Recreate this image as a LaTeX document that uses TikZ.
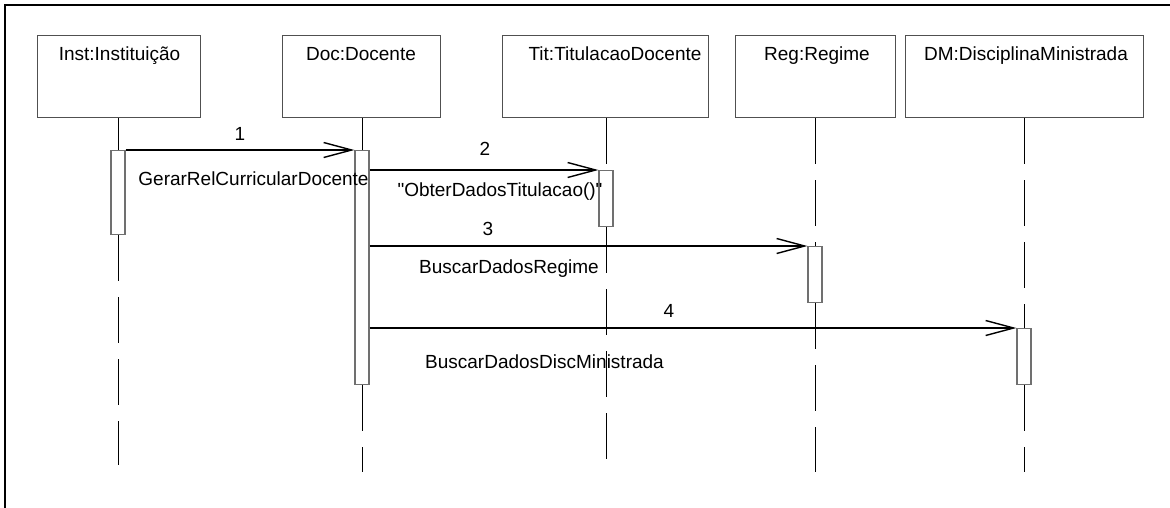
\documentclass[tikz,border=0pt]{standalone}
\usepackage{fontspec}
% plain family: keeps straight quotation marks as typed
\newfontfamily\diagfont{Liberation Sans}
\usetikzlibrary{arrows.meta}
\definecolor{boxline}{HTML}{505050}
\definecolor{actline}{HTML}{707070}
\tikzset{
  obj/.style={draw=boxline, line width=1pt, rectangle, inner sep=0pt, anchor=north west},
  objname/.style={inner sep=0pt, text height=13.6pt, text depth=0pt, anchor=center},
  act/.style={draw=actline, fill=white, line width=1.3pt, rectangle, inner sep=0pt,
              minimum width=14pt, anchor=north},
  life/.style={draw=black, line width=0.9pt, dash pattern=on 46pt off 16pt},
  msg/.style={draw=black, line width=1.4pt,
              -{Straight Barb[length=28pt, width=15pt, line width=1.4pt]}},
  lbl/.style={inner sep=0pt, text height=13.6pt, text depth=0pt, anchor=center},
  frameline/.style={draw=black, line width=2.4pt}
}
\begin{document}
\begin{tikzpicture}[x=1pt, y=-1pt, font=\diagfont\fontsize{19}{23}\selectfont]
\useasboundingbox (0,0) rectangle (1170,507);

% frame (top and left edges)
\coordinate (fTL) at (5,5);
\coordinate (fTR) at (1172,5);
\coordinate (fBL) at (5,509);
\draw[frameline] (fTR) -- (fTL) -- (fBL);

% object boxes
\node[obj, minimum width=163pt, minimum height=82pt] (inst) at (37,35) {};
\node[obj, minimum width=158pt, minimum height=82pt] (doc)  at (282,35) {};
\node[obj, minimum width=206pt, minimum height=82pt] (tit)  at (502,35) {};
\node[obj, minimum width=160pt, minimum height=82pt] (reg)  at (735,35) {};
\node[obj, minimum width=238pt, minimum height=82pt] (dm)   at (905,35) {};

\node[objname] (instT) at (119.5,53.5) {Inst:Instituição};
\node[objname] (docT)  at (361,53.5) {Doc:Docente};
\node[objname] (titT)  at (615,53.5) {Tit:TitulacaoDocente};
\node[objname] (regT)  at (817,53.5) {Reg:Regime};
\node[objname] (dmT)   at (1026,53.5) {DM:DisciplinaMinistrada};

% activation bars
\node[act, minimum height=84pt]  (aInst) at (118,150) {};
\node[act, minimum height=234pt] (aDoc)  at (362,150) {};
\node[act, minimum height=56pt]  (aTit)  at (606,170) {};
\node[act, minimum height=56pt]  (aReg)  at (815,246) {};
\node[act, minimum height=56pt]  (aDM)   at (1024,328) {};

% lifeline ends
\coordinate (eInst) at (118,465);
\coordinate (eDoc)  at (362,472);
\coordinate (eTit)  at (606,473);
\coordinate (eReg)  at (815,472);
\coordinate (eDM)   at (1024,472);

% lifelines
\draw[life] (inst.south -| aInst.north) -- (aInst.north);
\draw[life] (aInst.south) -- (eInst);
\draw[life] (doc.south -| aDoc.north) -- (aDoc.north);
\draw[life] (aDoc.south) -- (eDoc);
\draw[life] (tit.south -| aTit.north) -- (aTit.north);
\draw[life] (aTit.south) -- (eTit);
\draw[life] (reg.south -| aReg.north) -- (aReg.north);
\draw[life] (aReg.south) -- (eReg);
\draw[life] (dm.south -| aDM.north) -- (aDM.north);
\draw[life] (aDM.south) -- (eDM);

% messages
\draw[msg] (aInst.north east) -- (aDoc.north west);
\draw[msg] (aDoc.east |- aTit.north) -- (aTit.north west);
\draw[msg] (aDoc.east |- aReg.north) -- (aReg.north west);
\draw[msg] (aDoc.east |- aDM.north) -- (aDM.north west);

% message labels
\node[lbl] (n1) at (240,134) {1};
\node[lbl] (m1) at (253.5,179) {GerarRelCurricularDocente};
\node[lbl] (n2) at (485,149) {2};
\node[lbl] (m2) at (500,190) {"ObterDadosTitulacao()"};
\node[lbl] (n3) at (488,229) {3};
\node[lbl] (m3) at (509,267) {BuscarDadosRegime};
\node[lbl] (n4) at (669,311) {4};
\node[lbl] (m4) at (544.5,362) {BuscarDadosDiscMinistrada};
\end{tikzpicture}
\end{document}
